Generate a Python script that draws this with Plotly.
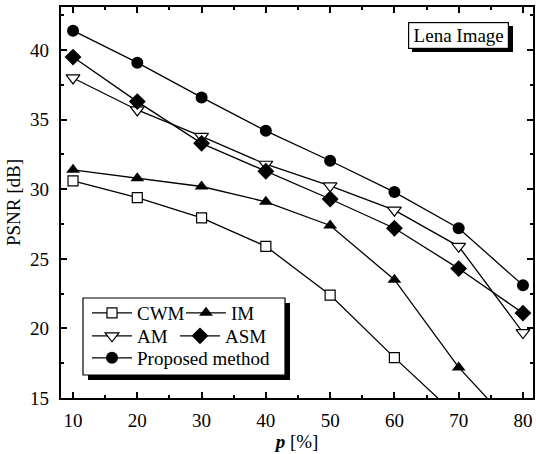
import plotly.graph_objects as go

# ---- data ----
p_values = [10, 20, 30, 40, 50, 60, 70, 80]
cwm = [30.6, 29.4, 27.95, 25.9, 22.4, 17.9, 13.6, 10.0]
im = [31.4, 30.8, 30.2, 29.1, 27.4, 23.5, 17.2, 12.2]
am = [38.0, 35.7, 33.8, 31.8, 30.25, 28.5, 25.9, 19.7]
asm = [39.5, 36.3, 33.3, 31.3, 29.3, 27.2, 24.3, 21.1]
proposed = [41.4, 39.1, 36.6, 34.2, 32.05, 29.8, 27.2, 23.1]

x_ticks = [10, 20, 30, 40, 50, 60, 70, 80]
y_ticks = [15, 20, 25, 30, 35, 40]

FONT = "Liberation Serif"
W, H = 536, 454
ML, MR, MT, MB = 61, 3, 7, 56
PW, PH = W - ML - MR, H - MT - MB


def px2x(px):
    return (px - ML) / PW


def py2y(py):
    return (H - MB - py) / PH


series = [
    ("CWM", cwm, dict(symbol="square", size=10, color="white", line=dict(color="black", width=1.2)), "legend"),
    ("IM", im, dict(symbol="triangle-up", size=12, color="black", line=dict(color="black", width=0)), "legend2"),
    ("AM", am, dict(symbol="triangle-down", size=12, color="white", line=dict(color="black", width=1.2)), "legend3"),
    ("ASM", asm, dict(symbol="diamond", size=13, color="black", line=dict(color="black", width=0)), "legend4"),
    ("Proposed method", proposed, dict(symbol="circle", size=12, color="black", line=dict(color="black", width=0)), "legend5"),
]

fig = go.Figure()
for name, vals, marker, lg in series:
    fig.add_trace(go.Scatter(
        x=p_values, y=vals, name=name, mode="lines+markers",
        line=dict(color="black", width=1.3), marker=marker, legend=lg,
    ))

legend_pos = {"legend": (87, 313), "legend2": (181, 313), "legend3": (87, 336),
              "legend4": (175, 336), "legend5": (87, 358)}
legends = {}
for key, (lx, cy) in legend_pos.items():
    legends[key] = dict(
        x=px2x(lx), y=py2y(cy), xanchor="left", yanchor="middle",
        bgcolor="rgba(0,0,0,0)", borderwidth=0, itemwidth=40,
        font=dict(family=FONT, size=19, color="black"),
    )

axis_common = dict(
    showline=True, linecolor="black", linewidth=2.2, mirror="ticks",
    ticks="inside", ticklen=6, tickwidth=1.5, tickcolor="black",
    showgrid=False, zeroline=False, automargin=False,
    tickfont=dict(family=FONT, size=19, color="black"),
)

fig.update_layout(
    width=W, height=H,
    margin=dict(l=ML, r=MR, t=MT, b=MB, autoexpand=False),
    paper_bgcolor="white", plot_bgcolor="white",
    showlegend=True,
    xaxis=dict(
        range=[8.13, 81.56], tickvals=x_ticks, ticklabelstandoff=4,
        minor=dict(dtick=5, tick0=0, ticks="inside", ticklen=3, tickwidth=1.5, tickcolor="black"),
        title=dict(text="<b><i>p</i></b> [%]", font=dict(family=FONT, size=19, color="black"), standoff=2),
        **axis_common,
    ),
    yaxis=dict(
        range=[15, 43.1], tickvals=y_ticks, ticklabelstandoff=6,
        minor=dict(dtick=2.5, tick0=0, ticks="inside", ticklen=3, tickwidth=1.5, tickcolor="black"),
        title=dict(text="PSNR [dB]", font=dict(family=FONT, size=19, color="black"), standoff=4),
        **axis_common,
    ),
    shapes=[
        # legend box shadow + box
        dict(type="rect", xref="paper", yref="paper", x0=px2x(88), x1=px2x(290), y0=py2y(380), y1=py2y(303),
             fillcolor="black", line=dict(width=0), layer="above"),
        dict(type="rect", xref="paper", yref="paper", x0=px2x(83), x1=px2x(285), y0=py2y(375), y1=py2y(298),
             fillcolor="white", line=dict(color="black", width=1.2), layer="above"),
        # "Lena Image" box shadow
        dict(type="rect", xref="paper", yref="paper", x0=px2x(412), x1=px2x(513), y0=py2y(52), y1=py2y(26),
             fillcolor="black", line=dict(width=0), layer="above"),
    ],
    annotations=[
        dict(text="Lena Image", xref="paper", yref="paper", x=px2x(458.5), y=py2y(35),
             xanchor="center", yanchor="middle", showarrow=False, width=95, height=21,
             font=dict(family=FONT, size=19, color="black"), bgcolor="white",
             bordercolor="black", borderwidth=1.2, borderpad=2),
    ],
    **legends,
)

fig.write_html("out.html", config={"displayModeBar": False},
               post_script="document.body.style.margin='0px';")
